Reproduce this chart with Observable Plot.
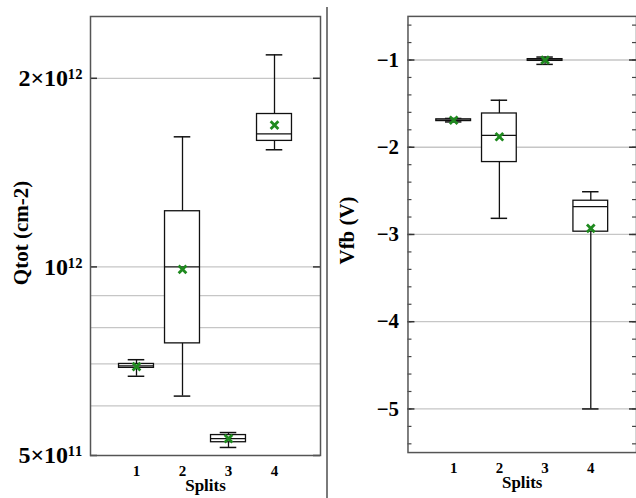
<!DOCTYPE html>
<html>
<head>
<meta charset="utf-8">
<script src="https://cdn.jsdelivr.net/npm/d3@7"></script>
<script src="https://cdn.jsdelivr.net/npm/@observablehq/plot@0.6"></script>
<style>
  html, body { margin: 0; padding: 0; background: #fff; overflow: hidden; }
  #wrap { display: flex; width: 636px; height: 498px; position: relative; }
  #sep { position: absolute; left: 326px; top: 7px; width: 2px; height: 491px; background: #7a7a7a; }
  #left { width: 326px; }
  #right { position: absolute; left: 328px; top: 0; }
  svg text { font-family: 'Liberation Serif', 'DejaVu Serif', serif; font-weight: bold; fill: #000; }
</style>
</head>
<body>
<div id="wrap"><div id="left"></div><div id="sep"></div><div id="right"></div></div>
<script>
// ---- data ----
const splits = [1, 2, 3, 4];

// Qtot (cm-2), log scale
const qMin  = [6.69e11, 6.22e11, 5.15e11, 1.538e12];
const qQ1   = [6.90e11, 7.55e11, 5.25e11, 1.589e12];
const qMed  = [6.95e11, 1.00e12, 5.32e11, 1.630e12];
const qQ3   = [7.00e11, 1.227e12, 5.39e11, 1.754e12];
const qMax  = [7.11e11, 1.613e12, 5.44e11, 2.180e12];
const qMean = [6.93e11, 0.991e12, 5.32e11, 1.684e12];
const qTicks = [5e11, 1e12, 2e12];
const qTickLabels = ["5×10¹¹", "10¹²", "2×10¹²"];
const qGrid = [6e11, 7e11, 8e11, 9e11, 1e12, 2e12];

// Vfb (V)
const vMin  = [-1.71, -2.815, -1.05, -5.00];
const vQ1   = [-1.70, -2.17, -1.01, -2.968];
const vMed  = [-1.69, -1.865, -1.00, -2.68];
const vQ3   = [-1.68, -1.613, -0.99, -2.613];
const vMax  = [-1.67, -1.461, -0.966, -2.51];
const vMean = [-1.69, -1.88, -1.00, -2.93];
const vTicks = [-5, -4, -3, -2, -1];
const vMinor = d3.range(-5.4, -0.55, 0.2).map(v => Math.round(v * 10) / 10);

const font = "'Liberation Serif', 'DejaVu Serif', serif";
const boxHalf = 0.38, capHalf = 0.18;
const green = "#1f8a1f";
const textStyle = {fontFamily: font, fontWeight: "bold", fill: "#000"};

function rows(mn, q1, md, q3, mx, mean) {
  return splits.map((s, i) => ({s, min: mn[i], q1: q1[i], med: md[i], q3: q3[i], max: mx[i], mean: mean[i]}));
}

function boxMarks(data) {
  return [
    Plot.ruleX(data, {x: "s", y1: "min", y2: "q1", stroke: "#111", strokeWidth: 1.3}),
    Plot.ruleX(data, {x: "s", y1: "q3", y2: "max", stroke: "#111", strokeWidth: 1.3}),
    Plot.ruleY(data, {y: "min", x1: d => d.s - capHalf, x2: d => d.s + capHalf, stroke: "#111", strokeWidth: 1.5}),
    Plot.ruleY(data, {y: "max", x1: d => d.s - capHalf, x2: d => d.s + capHalf, stroke: "#111", strokeWidth: 1.5}),
    Plot.rect(data, {x1: d => d.s - boxHalf, x2: d => d.s + boxHalf, y1: "q1", y2: "q3", fill: "white", stroke: "#111", strokeWidth: 1.3}),
    Plot.ruleY(data, {y: "med", x1: d => d.s - boxHalf, x2: d => d.s + boxHalf, stroke: "#111", strokeWidth: 1.3}),
    Plot.dot(data, {x: "s", y: "mean", symbol: "times", r: 3.6, stroke: green, strokeWidth: 2.8})
  ];
}

const common = {
  height: 498,
  marginTop: 16,
  marginBottom: 43,
  style: {background: "white", overflow: "visible"}
};

function xAxisMarks() {
  return [
    Plot.axisX(splits, {tickSize: 0, tickPadding: 10, tickFormat: d => String(d), label: null, fontSize: 15, ...textStyle}),
    Plot.text(["Splits"], {frameAnchor: "bottom", lineAnchor: "middle", dy: 30, fontSize: 17, ...textStyle})
  ];
}

// ---- left panel: Qtot ----
const qData = rows(qMin, qQ1, qMed, qQ3, qMax, qMean);
const left = Plot.plot({
  ...common,
  width: 326,
  marginLeft: 90,
  marginRight: 6,
  x: {domain: [0, 5]},
  y: {type: "log", domain: [5e11, 2.51e12]},
  marks: [
    Plot.ruleY(qGrid, {stroke: "#c6c6c6", strokeWidth: 1.3}),
    Plot.tickY(qTicks, {y: d => d, insetRight: 223, stroke: "#333", strokeWidth: 1.5}),
    Plot.tickY(qTicks, {y: d => d, insetLeft: 223, stroke: "#333", strokeWidth: 1.5}),
    ...boxMarks(qData),
    Plot.frame({stroke: "#555", strokeWidth: 1.5}),
    Plot.axisY(qTicks, {tickSize: 0, tickPadding: 8, label: null, fontSize: 24,
      tickFormat: d => qTickLabels[qTicks.indexOf(d)], ...textStyle}),
    ...xAxisMarks(),
    Plot.text(["Qtot (cm-2)"], {frameAnchor: "left", textAnchor: "middle", rotate: -90, dx: -69, dy: -3, fontSize: 21, ...textStyle})
  ]
});
document.getElementById("left").appendChild(left);

// ---- right panel: Vfb ----
const vData = rows(vMin, vQ1, vMed, vQ3, vMax, vMean);
const right = Plot.plot({
  ...common,
  width: 310,
  marginLeft: 80,
  marginRight: 0,
  x: {domain: [0, 5]},
  y: {domain: [-5.5, -0.5]},
  marks: [
    Plot.ruleY(vTicks, {stroke: "#c6c6c6", strokeWidth: 1.3}),
    Plot.tickY(vMinor, {y: d => d, insetRight: 226, stroke: "#444", strokeWidth: 1.2}),
    Plot.tickY(vMinor, {y: d => d, insetLeft: 226, stroke: "#444", strokeWidth: 1.2}),
    Plot.tickY(vTicks, {y: d => d, insetRight: 223, stroke: "#333", strokeWidth: 1.5}),
    Plot.tickY(vTicks, {y: d => d, insetLeft: 223, stroke: "#333", strokeWidth: 1.5}),
    ...boxMarks(vData),
    Plot.frame({stroke: "#555", strokeWidth: 1.5}),
    Plot.axisY(vTicks, {tickSize: 0, tickPadding: 9, label: null, fontSize: 21,
      tickFormat: d => "\u2212" + Math.abs(d), ...textStyle}),
    ...xAxisMarks(),
    Plot.text(["Vfb (V)"], {frameAnchor: "left", textAnchor: "middle", rotate: -90, dx: -61, dy: -4, fontSize: 21, ...textStyle})
  ]
});
document.getElementById("right").appendChild(right);
</script>
</body>
</html>
